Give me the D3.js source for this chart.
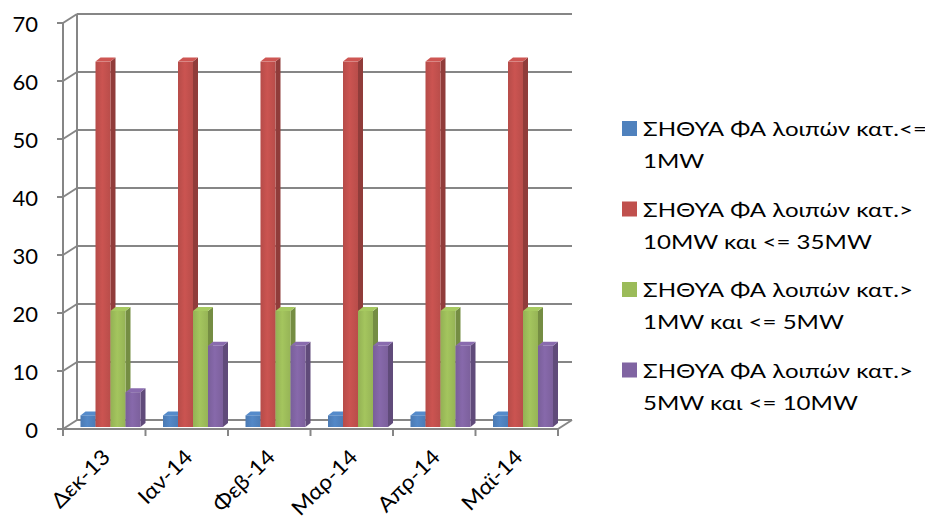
<!DOCTYPE html>
<html><head><meta charset="utf-8">
<script src="https://cdn.jsdelivr.net/npm/d3@7"></script>
<style>body{margin:0;background:#fff}svg{display:block}text{font-family:Lato,"Open Sans",sans-serif;fill:#000}</style>
</head><body><svg id="c" width="925" height="522"></svg>
<script>
const categories = ["Δεκ-13","Ιαν-14","Φεβ-14","Μαρ-14","Απρ-14","Μαϊ-14"];
const seriesNames = [
  ["ΣΗΘΥΑ ΦΑ λοιπών κατ.<=","1MW"],
  ["ΣΗΘΥΑ ΦΑ λοιπών κατ.>","10MW και <= 35MW"],
  ["ΣΗΘΥΑ ΦΑ λοιπών κατ.>","1MW και <= 5MW"],
  ["ΣΗΘΥΑ ΦΑ λοιπών κατ.>","5MW και <= 10MW"]
];
const s1 = [2,2,2,2,2,2];
const s2 = [63,63,63,63,63,63];
const s3 = [20,20,20,20,20,20];
const s4 = [6,14,14,14,14,14];
const series = [s1,s2,s3,s4];
const colors = ["#4F81BD","#C0504D","#9BBB59","#8064A2"];
const yTicks = [0,10,20,30,40,50,60,70];

const svg = d3.select("#c");
const x0 = 63, x1 = 558, yB = 429, yT = 23;
const DX = 14, DY = -9;
const x = d3.scaleBand().domain(categories).range([x0,x1]).paddingInner(0).paddingOuter(0);
const y = d3.scaleLinear().domain([0,70]).range([yB,yT]);
const inner = d3.scaleBand().domain(d3.range(4)).range([15.5, 15.5+60]);

const defs = svg.append("defs");
colors.forEach((c,i)=>{
  const g = defs.append("linearGradient").attr("id","g"+i).attr("x1",0).attr("x2",1).attr("y1",0).attr("y2",0);
  g.append("stop").attr("offset","0%").attr("stop-color",d3.color(c).darker(0.15));
  g.append("stop").attr("offset","45%").attr("stop-color",d3.color(c).brighter(0.15));
  g.append("stop").attr("offset","100%").attr("stop-color",d3.color(c).darker(0.1));
});

const grid = svg.append("g").attr("stroke","#868686").attr("stroke-width",2).attr("fill","none");
yTicks.forEach(t=>{
  grid.append("line").attr("x1",x0+DX).attr("x2",x1+DX).attr("y1",y(t)+DY).attr("y2",y(t)+DY);
  grid.append("line").attr("x1",x0).attr("x2",x0+DX).attr("y1",y(t)).attr("y2",y(t)+DY);
  grid.append("line").attr("x1",x0-6).attr("x2",x0).attr("y1",y(t)).attr("y2",y(t));
});
grid.append("line").attr("x1",x0+DX).attr("x2",x0+DX).attr("y1",y(70)+DY).attr("y2",y(0)+DY);
grid.append("line").attr("x1",x0).attr("x2",x0).attr("y1",y(70)).attr("y2",y(0));
grid.append("line").attr("x1",x0).attr("x2",x1).attr("y1",yB).attr("y2",yB);
grid.append("line").attr("x1",x1).attr("x2",x1+DX).attr("y1",yB).attr("y2",yB+DY);
d3.range(categories.length+1).forEach(i=>{
  const xx = x0 + i*x.bandwidth();
  grid.append("line").attr("x1",xx).attr("x2",xx).attr("y1",yB).attr("y2",yB+7);
});

const bdx = 5, bdy = -4, off = 2;
const bars = svg.append("g");
categories.forEach((cat,ci)=>{
  series.forEach((s,si)=>{
    const v = s[ci];
    const bx = x(cat)+inner(si)+off, bw = inner.bandwidth();
    const by0 = y(0)-off, by1 = y(v)-off;
    const c = d3.color(colors[si]);
    bars.append("path").attr("d",`M${bx+bw},${by0}L${bx+bw+bdx},${by0+bdy}L${bx+bw+bdx},${by1+bdy}L${bx+bw},${by1}Z`).attr("fill",c.darker(0.8));
    bars.append("path").attr("d",`M${bx},${by1}L${bx+bdx},${by1+bdy}L${bx+bw+bdx},${by1+bdy}L${bx+bw},${by1}Z`).attr("fill",c.brighter(0.2));
    bars.append("rect").attr("x",bx).attr("y",by1).attr("width",bw).attr("height",by0-by1).attr("fill",`url(#g${si})`);
  });
});

svg.append("g").selectAll("text").data(yTicks).join("text")
  .attr("x",38).attr("y",d=>y(d)+1).attr("dy","0.35em").attr("text-anchor","end")
  .style("font-size","22px").text(d=>d);

const xl = svg.append("g").selectAll("text").data(categories).join("text")
  .attr("transform",d=>`translate(${x(d)+x.bandwidth()/2+2},${yB+24}) rotate(-45)`)
  .attr("text-anchor","end").attr("dy","0.35em")
  .style("font-size","21px").text(d=>d);
xl.each(function(){ const L=this.getComputedTextLength(); d3.select(this).attr("textLength",L*1.1).attr("lengthAdjust","spacingAndGlyphs"); });

const leg = svg.append("g");
const legTexts = [];
seriesNames.forEach((lines,i)=>{
  const by = 136 + i*80.5;
  leg.append("rect").attr("x",622).attr("y",by-15).attr("width",15).attr("height",15).attr("fill",colors[i]);
  lines.forEach((l,j)=>{
    legTexts.push(leg.append("text").attr("x",643).attr("y",by+j*32).style("font-size","20px").text(l));
  });
});
const f = 284 / legTexts[0].node().getComputedTextLength();
legTexts.forEach(t=>{ const L=t.node().getComputedTextLength(); t.attr("textLength",L*f).attr("lengthAdjust","spacingAndGlyphs"); });
</script></body></html>
